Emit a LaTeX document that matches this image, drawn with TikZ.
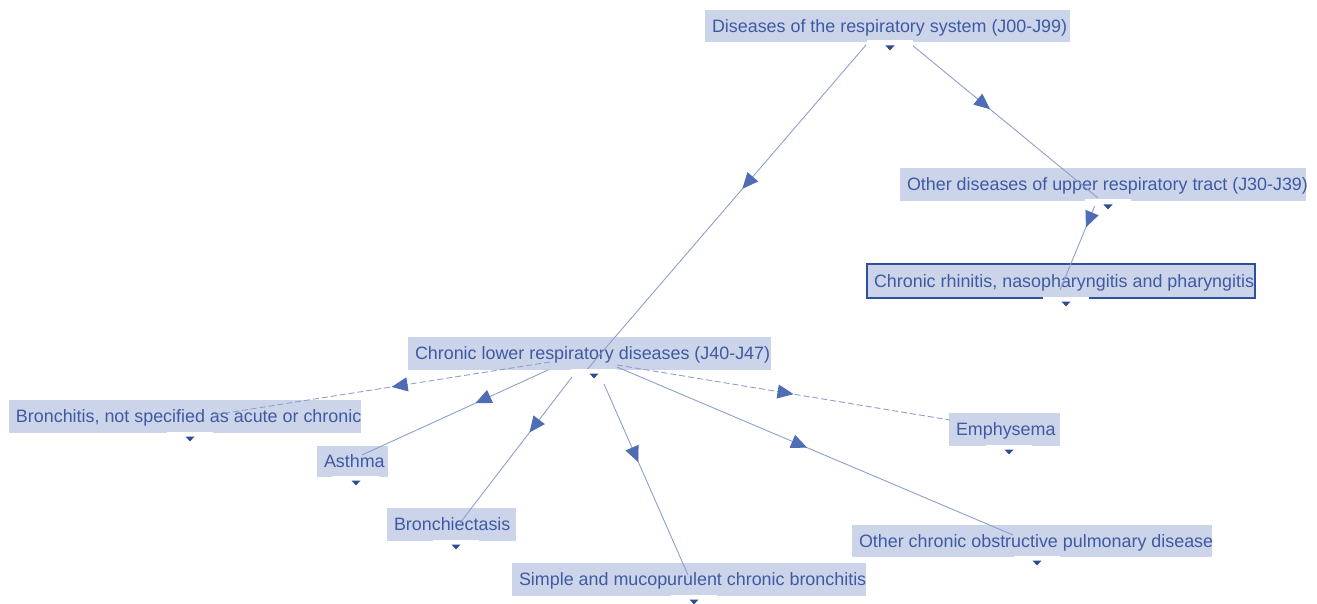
\documentclass[tikz,border=0pt]{standalone}
\usepackage{fontspec}
\setmainfont{Liberation Sans}
\usetikzlibrary{calc,arrows.meta,decorations.markings}
\definecolor{boxfill}{HTML}{CBD4E9}
\definecolor{textblue}{HTML}{3F5AA2}
\definecolor{lineblue}{HTML}{8E9FCB}
\definecolor{arrowblue}{HTML}{4F6DB5}
\definecolor{markblue}{HTML}{2C4C94}
\definecolor{selborder}{HTML}{2F4F9F}
\newcommand\drawmarker[2]{%
  \fill[white] ($(#1.south west)+(#2-23,-1.5)$) rectangle ++(46,6.5);
  \fill[markblue] ($(#1.south west)+(#2,6)$) +(-4.5,-2.5) -- +(4.5,-2.5) -- +(0,2.5) -- cycle;}
\tikzset{
  box/.style={fill=boxfill, text=textblue, inner xsep=7pt, inner ysep=0pt,
    outer sep=0pt, anchor=north west, text height=12.8pt, text depth=0pt,
    font=\fontsize{17.9pt}{20pt}\selectfont},
  selbox/.style={box, draw=selborder, line width=1.8pt},
  edge/.style={draw=lineblue, line width=0.9pt},
  dashededge/.style={edge, dash pattern=on 6pt off 3pt},
  midarrow/.style={postaction={decorate, decoration={markings,
    mark=at position #1 with {\arrow{Triangle[length=16pt,width=14pt,color=arrowblue]}}}}}
}
\begin{document}
\begin{tikzpicture}[x=1pt,y=-1pt]
\useasboundingbox (0,0) rectangle (1317,604);
% nodes
\node[box, minimum width=365pt, minimum height=32pt] (top) at (705,10)
  {\makebox[351pt][l]{Diseases of the respiratory system (J00-J99)}};
\node[box, minimum width=406pt, minimum height=33pt] (upper) at (900,168)
  {\makebox[392pt][l]{Other diseases of upper respiratory tract (J30-J39)}};
\node[selbox, minimum width=388pt, minimum height=34pt] (rhin) at (867,264)
  {\makebox[374pt][l]{Chronic rhinitis, nasopharyngitis and pharyngitis}};
\node[box, minimum width=363pt, minimum height=33pt] (lower) at (408,337)
  {\makebox[349pt][l]{Chronic lower respiratory diseases (J40-J47)}};
\node[box, minimum width=352pt, minimum height=33pt] (bronch) at (9,400)
  {\makebox[338pt][l]{Bronchitis, not specified as acute or chronic}};
\node[box, minimum width=71pt, minimum height=31pt] (asthma) at (317,446)
  {\makebox[57pt][l]{Asthma}};
\node[box, minimum width=129pt, minimum height=33pt] (bronchi) at (387,508)
  {\makebox[115pt][l]{Bronchiectasis}};
\node[box, minimum width=354pt, minimum height=33pt] (simple) at (512,563)
  {\makebox[340pt][l]{Simple and mucopurulent chronic bronchitis}};
\node[box, minimum width=111pt, minimum height=33pt] (emph) at (949,413)
  {\makebox[97pt][l]{Emphysema}};
\node[box, minimum width=360pt, minimum height=32pt] (copd) at (852,525)
  {\makebox[346pt][l]{Other chronic obstructive pulmonary disease}};
% edges
\draw[edge, midarrow=0.44] ($(top.north west)+(161,35)$) -- ($(lower.north west)+(177,35)$);
\draw[edge, midarrow=0.42] ($(top.north west)+(207,35)$) -- ($(upper.north west)+(198,30)$);
\draw[edge, midarrow=0.28] ($(upper.north west)+(196,35)$) -- ($(rhin.north west)+(193,26)$);
\draw[dashededge, midarrow=0.47] ($(lower.north west)+(142,25)$) -- ($(bronch.north west)+(204,15)$);
\draw[edge, midarrow=0.39] ($(lower.north west)+(140,33)$) -- ($(asthma.north west)+(45,9)$);
\draw[edge, midarrow=0.38] ($(lower.north west)+(164,40)$) -- ($(bronchi.north west)+(73,15)$);
\draw[edge, midarrow=0.41] ($(lower.north west)+(196,47)$) -- ($(simple.north west)+(176,12)$);
\draw[edge, midarrow=0.48] ($(lower.north west)+(209,30)$) -- ($(copd.north west)+(161,10)$);
\draw[dashededge, midarrow=0.53] ($(lower.north west)+(209,28)$) -- ($(emph.north west)+(1,7)$);
% markers
\drawmarker{top}{185}
\drawmarker{upper}{208}
\drawmarker{rhin}{199}
\drawmarker{lower}{186}
\drawmarker{bronch}{181}
\drawmarker{asthma}{39}
\drawmarker{bronchi}{69}
\drawmarker{simple}{182}
\drawmarker{emph}{60}
\drawmarker{copd}{185}
\end{tikzpicture}
\end{document}
